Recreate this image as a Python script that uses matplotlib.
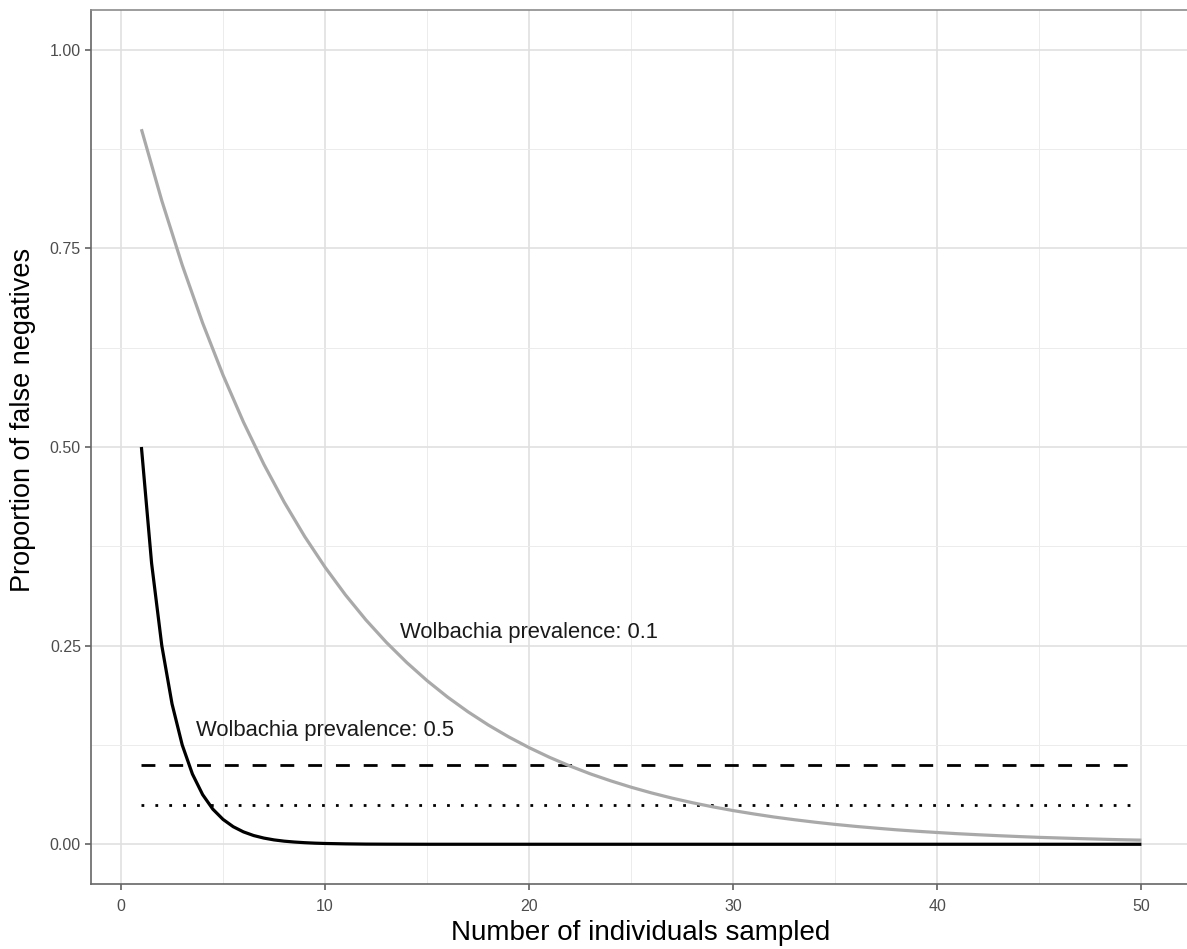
import matplotlib
matplotlib.use("Agg")
import matplotlib.pyplot as plt
from matplotlib.ticker import MultipleLocator

plt.rcParams['font.family'] = ['Liberation Sans', 'DejaVu Sans']

# prevalence 0.1 curve
n_low = list(range(1, 51))
fn_low = [0.9, 0.81, 0.729, 0.6561, 0.5905, 0.5314, 0.4783, 0.4305, 0.3874, 0.3487,
          0.3138, 0.2824, 0.2542, 0.2288, 0.2059, 0.1853, 0.1668, 0.1501, 0.1351, 0.1216,
          0.1094, 0.0985, 0.0886, 0.0798, 0.0718, 0.0646, 0.0581, 0.0523, 0.0471, 0.0424,
          0.0382, 0.0343, 0.0309, 0.0278, 0.0250, 0.0225, 0.0203, 0.0182, 0.0164, 0.0148,
          0.0133, 0.0120, 0.0108, 0.0097, 0.0087, 0.0079, 0.0071, 0.0064, 0.0057, 0.0052]

# prevalence 0.5 curve
n_high = [1.0, 1.5, 2.0, 2.5, 3.0, 3.5, 4.0, 4.5, 5.0, 5.5, 6.0, 6.5, 7.0, 7.5, 8.0,
          8.5, 9.0, 9.5, 10, 11, 12, 13, 15, 20, 30, 40, 50]
fn_high = [0.5, 0.3536, 0.25, 0.1768, 0.125, 0.0884, 0.0625, 0.0442, 0.0313, 0.0221,
           0.0156, 0.0110, 0.0078, 0.0055, 0.0039, 0.0028, 0.0020, 0.0014, 0.0010,
           0.0005, 0.0002, 0.0001, 0.0, 0.0, 0.0, 0.0, 0.0]

thresholds = [0.1, 0.05]
labels = ["Wolbachia prevalence: 0.1", "Wolbachia prevalence: 0.5"]
label_x = [20.0, 10.0]
label_y = [0.267, 0.143]

fig = plt.figure(figsize=(11.87, 9.49), dpi=100)
ax = fig.add_axes([91.4 / 1187, 65 / 949, 1100 / 1187, 874 / 949])

ax.set_xlim(-1.45, 52.45)
ax.set_ylim(-0.05, 1.05)

ax.xaxis.set_major_locator(MultipleLocator(10))
ax.xaxis.set_minor_locator(MultipleLocator(5))
ax.yaxis.set_major_locator(MultipleLocator(0.25))
ax.yaxis.set_minor_locator(MultipleLocator(0.125))
ax.yaxis.set_major_formatter(lambda v, p: f"{v:.2f}")
ax.grid(which='major', color='#e0e0e0', lw=1.2)
ax.grid(which='minor', color='#ececec', lw=0.7)
ax.set_axisbelow(True)

ax.plot([1, 50], [thresholds[0]] * 2, color='black', lw=2, dashes=(5, 5))
ax.plot([1, 50], [thresholds[1]] * 2, color='black', lw=2, dashes=(1, 4))
ax.plot(n_low, fn_low, color='#a9a9a9', lw=2.3, solid_capstyle='butt')
ax.plot(n_high, fn_high, color='black', lw=2.3, solid_capstyle='butt')

for t, x, y in zip(labels, label_x, label_y):
    ax.text(x, y, t, ha='center', va='center', fontsize=15.8, color='#1a1a1a')

for s in ['left', 'bottom']:
    ax.spines[s].set_color('#666666')
    ax.spines[s].set_linewidth(1.2)
for s in ['top', 'right']:
    ax.spines[s].set_color('#8c8c8c')
    ax.spines[s].set_linewidth(1.2)

ax.tick_params(which='major', length=4.5, width=1.1, color='#555555',
               labelcolor='#4d4d4d', labelsize=11.5, pad=3)
ax.tick_params(axis='x', pad=6)
ax.tick_params(which='minor', length=0)

ax.set_xlabel("Number of individuals sampled", fontsize=20, va='center')
ax.set_ylabel("Proportion of false negatives", fontsize=19.5, va='center')
ax.xaxis.set_label_coords(0.4996, -0.056)
ax.yaxis.set_label_coords(-0.062, 0.531)

fig.savefig("out.png", dpi=100)
